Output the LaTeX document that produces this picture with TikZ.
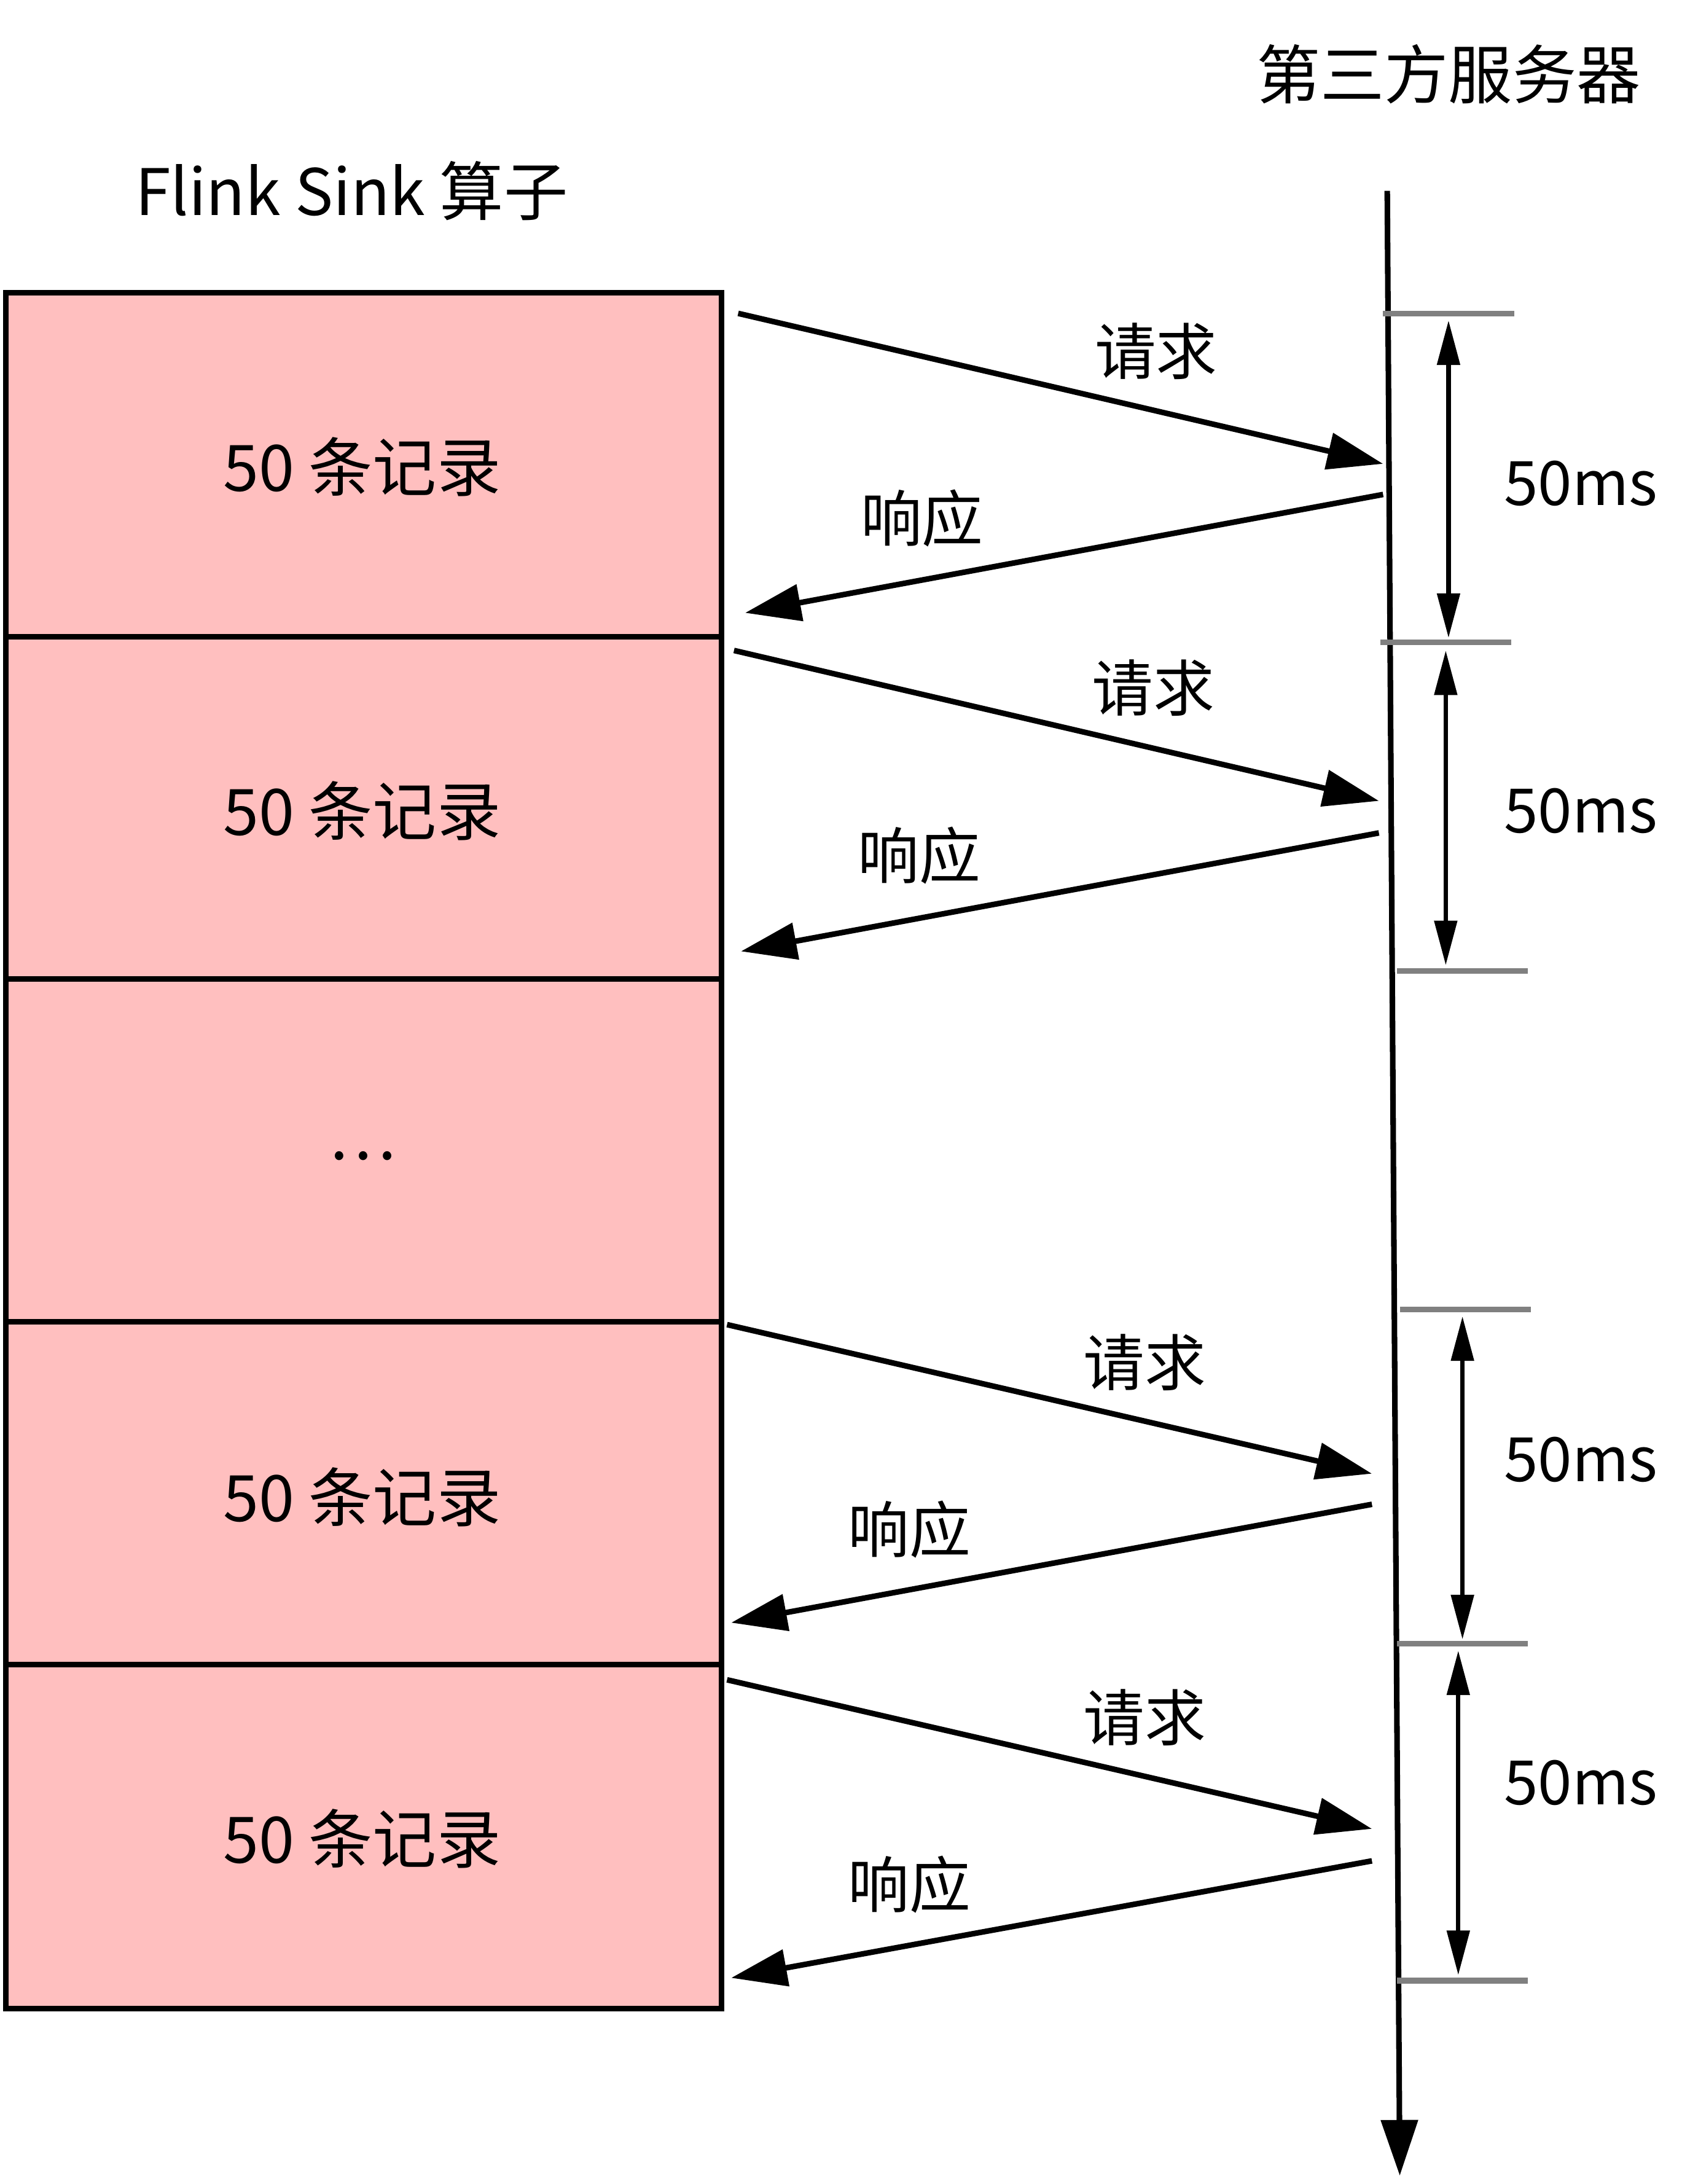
\documentclass[tikz,border=0pt]{standalone}
\usepackage{fontspec}
\setmainfont{Noto Sans CJK SC}
\usetikzlibrary{arrows.meta}
\begin{document}
\begin{tikzpicture}[x=0.5pt,y=-0.5pt,
  rec/.style={draw=black,line width=2pt,fill={rgb,255:red,255;green,191;blue,191}},
  msg/.style={line width=2pt,-{Triangle[length=20pt,width=13pt]}},
  dbl/.style={line width=1.6pt,{Triangle[length=16pt,width=8pt]}-{Triangle[length=16pt,width=8pt]}},
  tick/.style={draw={rgb,255:red,128;green,128;blue,128},line width=2pt},
  lab/.style={font=\fontsize{22}{26}\selectfont},
  big/.style={font=\fontsize{23}{27}\selectfont}]
\useasboundingbox (0,0) rectangle (1213,1568);
\foreach \a/\b/\n in {210/457/r1,457/703/r2,703/949/r3,949/1195/r4,1195/1442/r5}{
  \draw[rec] (4,\a) rectangle (518,\b);}
\foreach \y/\n in {335/t1,582/t2,1075/t4,1320/t5}{\node[big] (\n) at (260,\y) {50 条记录};}
\node[big] (dots) at (260,830) {…};
\node[big,anchor=west] (title) at (90,137) {Flink Sink 算子};
\node[big] (srv) at (1040,53) {第三方服务器};
\coordinate (s0) at (996,137); \coordinate (s1) at (1005,1562);
\draw[msg] (s0) -- (s1);
\foreach \ya/\yb/\yc/\yd/\xa/\xb/\xc/\i in {225/333/355/440/530/993/535/1, 467/575/598/683/527/990/532/2, 951/1058/1080/1165/522/985/525/3, 1206/1313/1336/1420/522/985/525/4}{
  \coordinate (qa\i) at (\xa,\ya); \coordinate (qb\i) at (\xb,\yb);
  \coordinate (pa\i) at (\xb,\yc); \coordinate (pb\i) at (\xc,\yd);
  \draw[msg] (qa\i) -- (qb\i);
  \draw[msg] (pa\i) -- (pb\i);}
\node[lab] (q1) at (830,252) {请求}; \node[lab] (p1) at (662,372) {响应};
\node[lab] (q2) at (828,494) {请求}; \node[lab] (p2) at (660,614) {响应};
\node[lab] (q3) at (822,978) {请求}; \node[lab] (p3) at (653,1098) {响应};
\node[lab] (q4) at (822,1233) {请求}; \node[lab] (p4) at (653,1353) {响应};
\foreach \xa/\y/\i in {993/225/1,991/461/2,1003/697/3,1005/940/4,1003/1180/5,1003/1422/6}{
  \coordinate (ka\i) at (\xa,\y); \coordinate (kb\i) at (\xa+94,\y);
  \draw[tick] (ka\i) -- (kb\i);}
\foreach \x/\a/\b/\i in {1040/230/458/1,1038/467/693/2,1050/945/1177/3,1047/1185/1418/4}{
  \coordinate (da\i) at (\x,\a); \coordinate (db\i) at (\x,\b);
  \draw[dbl] (da\i) -- (db\i);}
\foreach \y/\i in {347/1,582/2,1048/3,1280/4}{\node[lab] (ms\i) at (1135,\y) {50ms};}
\end{tikzpicture}
\end{document}
